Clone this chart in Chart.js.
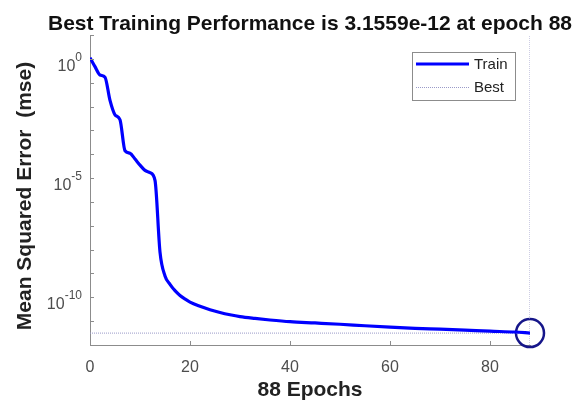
<!DOCTYPE html>
<html>
<head>
<meta charset="utf-8">
<script src="https://cdn.jsdelivr.net/npm/chart.js@4.4.1/dist/chart.umd.min.js"></script>
<style>
  html, body { margin: 0; padding: 0; background: #fff; }
  #wrap { width: 576px; height: 401px; }
</style>
</head>
<body>
<div id="wrap"><canvas id="perf"></canvas></div>
<script>
/* training performance plot: train mse (log) vs epoch, best marked */

const FONT = '"Liberation Sans", Arial, sans-serif';
const TICK = '#4d4d4d';
const AXIS = '#8c8c8c';

const epochs = [0, 1, 2, 3, 4, 5, 6, 7, 8, 9, 10, 11, 12, 13, 14, 15, 16, 17, 18, 19, 20,
  22, 24, 26, 28, 30, 33, 36, 40, 45, 50, 55, 60, 65, 70, 75, 80, 85, 88];
const trainMse = [1.12, 0.47, 0.21, 0.17, 0.018, 4.5e-3, 2.8e-3, 1.4e-4, 1.1e-4, 6.3e-5, 3.5e-5,
  2.1e-5, 1.7e-5, 8.0e-6, 7.9e-9, 7.9e-10, 3.5e-10, 1.9e-10, 1.2e-10, 8.5e-11, 6.3e-11,
  4.2e-11, 3.0e-11, 2.3e-11, 1.85e-11, 1.55e-11, 1.3e-11, 1.12e-11, 9.5e-12, 8.4e-12, 7.4e-12,
  6.4e-12, 5.6e-12, 5.0e-12, 4.6e-12, 4.2e-12, 3.8e-12, 3.5e-12, 3.1559e-12];
const bestEpoch = 88;
const bestMse = 3.1559e-12;

const xTicks = [0, 20, 40, 60, 80];
const yDecades = [1e-12, 1e-11, 1e-10, 1e-9, 1e-8, 1e-7, 1e-6, 1e-5, 1e-4, 1e-3, 1e-2, 1e-1, 1, 10];
const yLabelValues = [1, 1e-5, 1e-10];
const yLabelExp = ['0', '-5', '-10'];

const titleText = 'Best Training Performance is 3.1559e-12 at epoch 88';
const yTitleText = 'Mean Squared Error  (mse)';

const extras = {
  id: 'extras',
  afterDraw(chart) {
    const { ctx, chartArea: a, scales: { x, y } } = chart;
    ctx.save();
    // title
    ctx.fillStyle = '#111';
    ctx.font = 'bold 21px ' + FONT;
    ctx.textAlign = 'center';
    ctx.textBaseline = 'alphabetic';
    ctx.fillText(titleText, 310, 30);

    // y title
    ctx.save();
    ctx.translate(31, 196);
    ctx.rotate(-Math.PI / 2);
    ctx.fillStyle = '#222';
    ctx.fillText(yTitleText, 0, 0);
    ctx.restore();

    // y tick labels: 10 with a raised exponent
    ctx.fillStyle = TICK;
    ctx.textAlign = 'right';
    yLabelValues.forEach((v, i) => {
      const py = y.getPixelForValue(v);
      ctx.font = '12px ' + FONT;
      const ew = ctx.measureText(yLabelExp[i]).width;
      ctx.fillText(yLabelExp[i], 82, py + 2);
      ctx.font = '16px ' + FONT;
      ctx.fillText('10', 82 - ew, py + 12);
    });

    // inward tick marks
    ctx.strokeStyle = AXIS;
    ctx.lineWidth = 1;
    ctx.beginPath();
    xTicks.forEach((v) => {
      const px = Math.round(x.getPixelForValue(v)) + 0.5;
      ctx.moveTo(px, a.bottom); ctx.lineTo(px, a.bottom - 4);
    });
    yDecades.forEach((v) => {
      const py = Math.round(y.getPixelForValue(v)) + 0.5;
      ctx.moveTo(a.left, py); ctx.lineTo(a.left + 4, py);
    });
    ctx.stroke();

    // legend
    const lx = 412, ly = 52, lw = 103, lh = 48;
    ctx.fillStyle = '#fff';
    ctx.fillRect(lx, ly, lw, lh);
    ctx.strokeStyle = '#8c8c8c';
    ctx.strokeRect(lx + 0.5, ly + 0.5, lw, lh);
    const ds = chart.data.datasets;
    ctx.strokeStyle = ds[0].borderColor;
    ctx.lineWidth = ds[0].borderWidth;
    ctx.beginPath(); ctx.moveTo(416, 64); ctx.lineTo(469, 64); ctx.stroke();
    ctx.strokeStyle = ds[1].borderColor;
    ctx.lineWidth = 1;
    ctx.setLineDash([1, 1]);
    ctx.beginPath(); ctx.moveTo(416, 87.5); ctx.lineTo(469, 87.5); ctx.stroke();
    ctx.setLineDash([]);
    ctx.fillStyle = '#222';
    ctx.font = '15px ' + FONT;
    ctx.textAlign = 'left';
    ctx.textBaseline = 'middle';
    ctx.fillText(ds[0].label, 474, 65);
    ctx.fillText(ds[1].label, 474, 88);
    ctx.restore();
  },
};

new Chart(document.getElementById('perf'), {
  type: 'line',
  data: {
    datasets: [
      {
        label: 'Train',
        data: epochs.map((e, i) => ({ x: e, y: trainMse[i] })),
        borderColor: '#0000ff', borderWidth: 3.2, pointRadius: 0,
        cubicInterpolationMode: 'monotone',
      },
      {
        label: 'Best',
        data: [{ x: 0, y: bestMse }, { x: bestEpoch, y: bestMse }],
        borderColor: '#9a9ac8', borderWidth: 1, borderDash: [1, 1], pointRadius: 0,
      },
      {
        label: 'Best epoch',
        data: [{ x: bestEpoch, y: yDecades[0] }, { x: bestEpoch, y: yDecades[yDecades.length - 1] }],
        borderColor: '#9a9ac8', borderWidth: 1, borderDash: [1, 1], pointRadius: 0,
      },
      {
        label: 'Best point',
        data: [{ x: bestEpoch, y: bestMse }],
        showLine: false, pointRadius: 14, pointStyle: 'circle',
        pointBorderColor: '#16168a', pointBorderWidth: 2.5, pointBackgroundColor: 'rgba(0,0,0,0)',
        clip: false,
      },
    ],
  },
  options: {
    responsive: true, maintainAspectRatio: false, animation: false,
    devicePixelRatio: 1,
    layout: { padding: { top: 35, right: 46, left: 0, bottom: 0 } },
    plugins: { legend: { display: false }, tooltip: { enabled: false }, title: { display: false } },
    scales: {
      x: {
        type: 'linear', min: 0, max: bestEpoch,
        afterBuildTicks: (s) => { s.ticks = xTicks.map((v) => ({ value: v })); },
        afterFit: (s) => { s.height = 56; },
        grid: { display: false },
        border: { display: true, color: AXIS, width: 1 },
        ticks: { color: TICK, padding: 5, maxRotation: 0, font: { family: FONT, size: 16 } },
        title: { display: true, text: '88 Epochs', color: '#222', padding: { top: 0, bottom: 0 },
          font: { family: FONT, size: 21, weight: 'bold', lineHeight: 1 } },
      },
      y: {
        type: 'logarithmic', min: yDecades[0], max: yDecades[yDecades.length - 1],
        afterBuildTicks: (s) => { s.ticks = yDecades.map((v) => ({ value: v })); },
        afterFit: (s) => { s.width = 90; },
        grid: { display: false },
        border: { display: true, color: AXIS, width: 1 },
        ticks: { display: false },
      },
    },
  },
  plugins: [extras],
});
</script>
</body>
</html>
